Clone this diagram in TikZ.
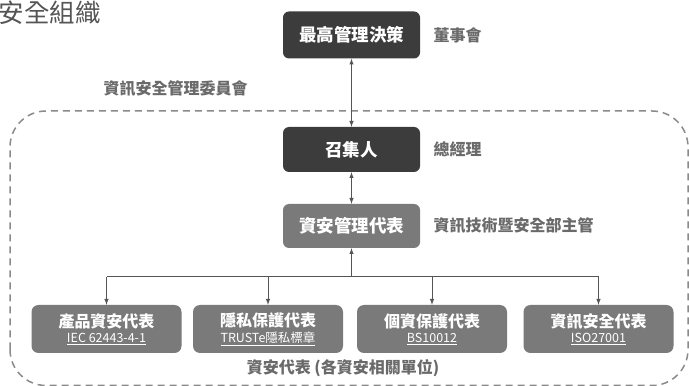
\documentclass[tikz,border=0pt]{standalone}
\usepackage{fontspec}
\setmainfont{Noto Sans CJK TC}
\usetikzlibrary{arrows}
\usetikzlibrary{positioning}
\definecolor{boxdark}{HTML}{3C3C3C}
\definecolor{boxmid}{HTML}{7A7A7A}
\definecolor{txtgray}{HTML}{6A6A6A}
\definecolor{linegray}{HTML}{555555}
\definecolor{dashgray}{HTML}{8A8A8A}

\tikzset{
  darkbox/.style={fill=boxdark, rounded corners=6pt, minimum width=137pt, minimum height=47pt,
    text=white, font=\fontsize{17.5}{19}\selectfont\bfseries},
  midbox/.style={fill=boxmid, rounded corners=6pt, minimum width=137pt, minimum height=44pt,
    text=white, font=\fontsize{17.5}{19}\selectfont\bfseries},
  repbox/.style={fill=boxmid, rounded corners=7pt, minimum width=150pt, minimum height=48pt,
    text=white, align=center, inner sep=0pt},
  sidelabel/.style={text=txtgray, font=\fontsize{16}{18}\selectfont\bfseries, right=10pt},
  link/.style={draw=linegray, line width=1pt}
}

\newcommand{\reptext}[2]{{\fontsize{16}{17}\selectfont\bfseries #1}\\[3pt]{\fontsize{12.5}{13}\selectfont\underline{#2}}}

\begin{document}
\begin{tikzpicture}[x=1pt, y=1pt, >=latex]
  \useasboundingbox (0,0) rectangle (689,386);

  % title and committee frame
  \node[anchor=west, text=linegray, font=\fontsize{25.5}{27}\selectfont] (title) at (-5,373) {安全組織};
  \draw[dashgray, line width=1.5pt, dash pattern=on 7pt off 5pt, rounded corners=36pt]
    (10,0.5) rectangle (688,275);
  \node[text=txtgray, font=\fontsize{16}{18}\selectfont\bfseries] (committee) at (175.5,297) {資訊安全管理委員會};

  % main chain
  \node[darkbox] (top) at (351.5,351) {最高管理決策};
  \node[sidelabel] (board) at (top.east) {董事會};
  \node[darkbox, minimum height=45pt] (conv) at (351.5,236.5) {召集人};
  \node[sidelabel] (gm) at (conv.east) {總經理};
  \node[midbox] (rep) at (351.5,160) {資安管理代表};
  \node[sidelabel] (itmgr) at (rep.east) {資訊技術暨安全部主管};

  \draw[link, <->] (top) -- (conv);
  \draw[link, <->] (conv) -- (rep);

  % representatives
  \node[repbox] (r1) at (106.5,57) {\reptext{產品資安代表}{IEC 62443-4-1}};
  \node[repbox] (r2) at (268,57) {\reptext{隱私保護代表}{TRUSTe隱私標章}};
  \node[repbox] (r3) at (432,57) {\reptext{個資保護代表}{BS10012}};
  \node[repbox] (r4) at (598.5,57) {\reptext{資訊安全代表}{ISO27001}};

  \coordinate (bus) at (351.5,109);
  \draw[link, ->] (bus) -- (rep);
  \draw[link] (r1.north |- bus) -- (r4.north |- bus);
  \foreach \r in {r1,r2,r3,r4}
    \draw[link, ->] (\r.north |- bus) -- (\r);

  \node[text=txtgray, font=\fontsize{16}{18}\selectfont\bfseries] (replabel) at (343,18) {資安代表 (各資安相關單位)};
\end{tikzpicture}
\end{document}
